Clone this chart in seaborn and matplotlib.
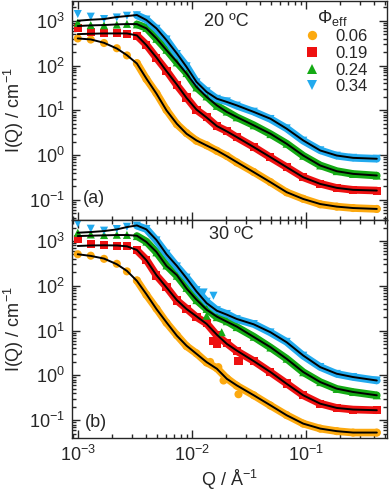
import numpy as np
import pandas as pd
import seaborn as sns
import matplotlib.pyplot as plt
from matplotlib.ticker import LogLocator, NullFormatter

phi_labels = ['0.06', '0.19', '0.24', '0.34']
colors = ['#FCA90F', '#EE1111', '#14AA14', '#22AAEE']
markers = ['o', 's', '^', 'v']

# Q grid (1/A)
q = [0.001, 0.0013, 0.0017, 0.0022, 0.0027, 0.0033, 0.004, 0.0049, 0.006, 0.0074,
     0.009, 0.011, 0.0135, 0.0166, 0.0203, 0.0248, 0.035, 0.049, 0.068, 0.095,
     0.134, 0.187, 0.26, 0.42]

# (a) 20 C, model fits
fit_a_006 = [402, 382, 321, 240, 170, 111, 51, 23.6, 10, 5.0, 3.0, 2.13, 1.64, 1.27,
             0.95, 0.70, 0.416, 0.249, 0.149, 0.105, 0.081, 0.071, 0.066, 0.063]
fit_a_019 = [502, 512, 520, 520, 520, 470, 285, 151, 75, 37.6, 18.9, 10.4, 6.9, 4.45,
             3.39, 2.53, 1.51, 0.90, 0.538, 0.321, 0.228, 0.186, 0.168, 0.162]
fit_a_024 = [760, 787, 800, 828, 841, 841, 673, 402, 220, 121, 66, 33.3, 19.9, 12.9,
             9.2, 7.1, 4.61, 3.0, 1.79, 0.98, 0.587, 0.438, 0.382, 0.351]
fit_a_034 = [1000, 1052, 1090, 1208, 1271, 1340, 1035, 673, 369, 186, 93, 43, 25.7, 18.2,
             15.4, 12.9, 9.2, 6.5, 3.89, 2.13, 1.27, 0.98, 0.87, 0.83]

# (a) 20 C, measured
dat_a_006 = [402, 380, 318, 243, 168, 113, 50, 24, 10.2, 4.9, 3.1, 2.1, 1.66, 1.25,
             0.96, 0.69, 0.42, 0.25, 0.148, 0.106, 0.080, 0.071, 0.066, 0.063]
dat_a_019 = [673, 560, 535, 525, 515, 465, 290, 148, 77, 36.5, 19.3, 10.2, 7.0, 4.4,
             3.45, 2.5, 1.52, 0.89, 0.54, 0.32, 0.23, 0.185, 0.168, 0.162]
dat_a_024 = [902, 800, 790, 820, 850, 830, 690, 395, 225, 118, 68, 32.5, 20.5, 12.6,
             9.4, 7.0, 4.65, 2.95, 1.8, 0.97, 0.59, 0.44, 0.38, 0.35]
dat_a_034 = [1410, 1230, 1090, 1180, 1290, 1320, 1060, 660, 380, 180, 96, 42, 26.5, 18,
             15.8, 12.7, 9.3, 6.4, 3.95, 2.1, 1.28, 0.97, 0.87, 0.83]

# (b) 30 C, model fits
fit_b_006 = [506, 465, 405, 303, 215, 129, 65, 30.3, 15.3, 7.7, 4.6, 3.03, 1.98, 1.41,
             0.84, 0.60, 0.36, 0.215, 0.129, 0.084, 0.065, 0.057, 0.053, 0.053]
fit_b_019 = [774, 795, 802, 795, 761, 630, 372, 173, 92, 48, 30.3, 20.8, 14.1, 8.1,
             5.06, 3.59, 2.08, 1.19, 0.65, 0.36, 0.234, 0.188, 0.173, 0.167]
fit_b_024 = [1291, 1314, 1337, 1360, 1360, 1314, 950, 570, 278, 173, 87, 49, 29.3, 20.5,
             15.8, 12.3, 7.2, 4.27, 2.34, 1.19, 0.71, 0.506, 0.427, 0.36]
fit_b_034 = [1531, 1585, 1667, 1816, 2047, 2228, 1816, 1053, 506, 278, 148, 75, 41, 27.8,
             22.7, 18.2, 13.8, 9.2, 5.5, 2.78, 1.53, 1.09, 0.92, 0.77]

# (b) 30 C, measured
dat_b_006 = [506, 470, 400, 310, 210, 132, 63, 31, 15, 7.9, 4.5, 3.1, 1.95, 1.45,
             0.86, 0.59, 0.36, 0.213, 0.13, 0.084, 0.065, 0.057, 0.053, 0.053]
dat_b_019 = [1127, 860, 820, 790, 770, 620, 380, 170, 94, 47, 31, 20, 14.5, 7.8,
             5.2, 3.5, 2.1, 1.18, 0.66, 0.36, 0.235, 0.188, 0.173, 0.167]
dat_b_024 = [1531, 1400, 1360, 1380, 1370, 1290, 970, 560, 285, 168, 90, 48, 30.5, 20,
             16.2, 12, 7.3, 4.2, 2.36, 1.18, 0.71, 0.5, 0.427, 0.36]
dat_b_034 = [2472, 1880, 1700, 1850, 2080, 2200, 1850, 1030, 520, 270, 152, 80, 44, 28.5,
             23.5, 18, 14, 9.1, 5.6, 2.75, 1.54, 1.08, 0.92, 0.77]

# (b) scattered points around 0.012-0.026 1/A
odd_q_b = [0.0145, 0.0171, 0.019, 0.0257, 0.0155, 0.0166, 0.0257, 0.0135, 0.0183, 0.0127, 0.0155]
odd_I_b = [2.0, 1.53, 0.77, 0.38, 6.0, 5.1, 2.08, 21.5, 9.2, 71, 60]
odd_phi_b = ['0.06', '0.06', '0.06', '0.06', '0.19', '0.19', '0.19', '0.24', '0.24', '0.34', '0.34']


def long_table(series):
    rows = []
    for lab, vals in zip(phi_labels, series):
        rows.append(pd.DataFrame({'Q': q, 'I': vals, 'phi': lab}))
    return pd.concat(rows, ignore_index=True)


fit_a = long_table([fit_a_006, fit_a_019, fit_a_024, fit_a_034])
dat_a = long_table([dat_a_006, dat_a_019, dat_a_024, dat_a_034])
fit_b = long_table([fit_b_006, fit_b_019, fit_b_024, fit_b_034])
dat_b = long_table([dat_b_006, dat_b_019, dat_b_024, dat_b_034])
dat_b = pd.concat([dat_b, pd.DataFrame({'Q': odd_q_b, 'I': odd_I_b, 'phi': odd_phi_b})],
                  ignore_index=True)

sns.set_style('ticks')
plt.rcParams['font.family'] = ['Liberation Sans', 'DejaVu Sans']
plt.rcParams['mathtext.fontset'] = 'custom'
plt.rcParams['mathtext.rm'] = 'Liberation Sans'
plt.rcParams['axes.linewidth'] = 1.0

pal = dict(zip(phi_labels, colors))
mk = dict(zip(phi_labels, markers))

fig, (ax_a, ax_b) = plt.subplots(2, 1, sharex=True, figsize=(3.92, 4.95), dpi=100)
fig.subplots_adjust(left=72 / 392, right=387 / 392, top=1 - 1 / 495, bottom=1 - 438 / 495, hspace=0)

for ax, dat, fit in [(ax_a, dat_a, fit_a), (ax_b, dat_b, fit_b)]:
    dense = dat[(dat.Q > 0.003) & dat.index.isin(range(len(q) * 4))]
    sns.lineplot(data=dense, x='Q', y='I', hue='phi', hue_order=phi_labels, palette=pal,
                 lw=5.5, legend=False, estimator=None, sort=True, ax=ax, zorder=1)
    sns.scatterplot(data=dat, x='Q', y='I', hue='phi', style='phi', hue_order=phi_labels,
                    style_order=phi_labels, palette=pal, markers=mk, s=34, linewidth=0,
                    legend=(ax is ax_a), ax=ax, zorder=2)
    sns.lineplot(data=fit, x='Q', y='I', units='phi', estimator=None, color='black',
                 lw=1.4, sort=True, ax=ax, zorder=3)
    ax.set_xscale('log')
    ax.set_yscale('log')
    ax.set_xlim(8.9e-4, 0.516)
    ax.yaxis.set_major_locator(LogLocator(base=10, numticks=20))
    ax.yaxis.set_minor_locator(LogLocator(base=10, subs=np.arange(2, 10), numticks=20))
    ax.yaxis.set_minor_formatter(NullFormatter())
    ax.xaxis.set_minor_locator(LogLocator(base=10, subs=np.arange(2, 10), numticks=20))
    ax.xaxis.set_minor_formatter(NullFormatter())
    ax.tick_params(which='both', direction='in', top=True, right=True, labelsize=13, width=1)
    ax.tick_params(which='major', length=6, pad=5)
    ax.tick_params(which='minor', length=3)
    ax.set_ylabel('I(Q) / cm$^{-1}$', fontsize=13, labelpad=2)
    ax.set_xlabel('')

ax_a.set_ylim(0.0366, 2754)
ax_b.set_ylim(0.0401, 3020)
ax_b.set_xlabel('Q / Å$^{-1}$', fontsize=13, labelpad=2)

ax_a.text(0.489, 0.906, '20 ºC', transform=ax_a.transAxes, ha='center', va='center', fontsize=13)
ax_b.text(0.507, 0.93, '30 ºC', transform=ax_b.transAxes, ha='center', va='center', fontsize=13)
ax_a.text(0.07, 0.098, '(a)', transform=ax_a.transAxes, ha='center', va='center', fontsize=13)
ax_b.text(0.076, 0.073, '(b)', transform=ax_b.transAxes, ha='center', va='center', fontsize=13)

sns.move_legend(ax_a, 'upper right', bbox_to_anchor=(0.94, 0.97), title='Φ$_\\mathregular{eff}$',
                frameon=False, fontsize=12, title_fontsize=13, labelspacing=0.1,
                handletextpad=0.4, borderpad=0, borderaxespad=0, markerscale=1.15)

fig.savefig('out.png', dpi=100)
